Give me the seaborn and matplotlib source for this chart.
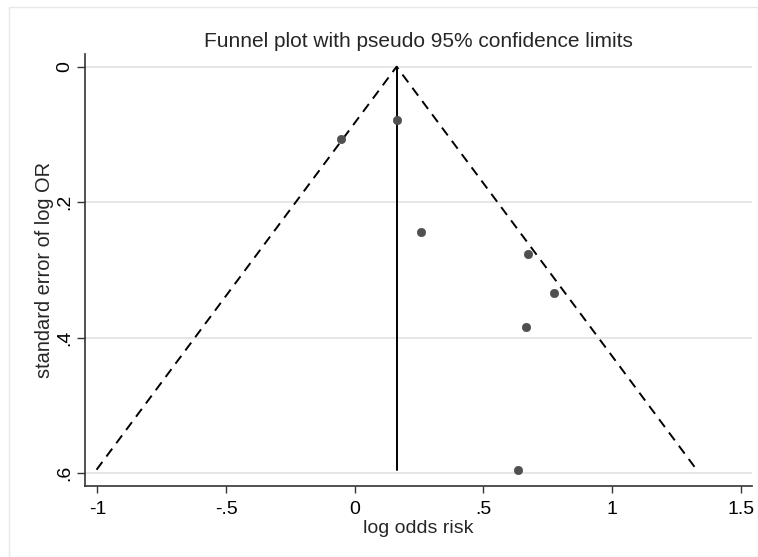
import matplotlib
matplotlib.use("Agg")
import matplotlib.pyplot as plt
import seaborn as sns
import numpy as np
import pandas as pd

# Data
log_or = [-0.054, 0.163, 0.257, 0.675, 0.773, 0.667, 0.633]
se_log_or = [0.107, 0.079, 0.244, 0.276, 0.334, 0.385, 0.595]
pooled = 0.163
x_ticks = [-1, -0.5, 0, 0.5, 1, 1.5]
x_ticklabels = ["-1", "-.5", "0", ".5", "1", "1.5"]
y_ticks = [0, 0.2, 0.4, 0.6]
y_ticklabels = ["0", ".2", ".4", ".6"]

sns.set_theme(style="white")
plt.rcParams['font.family'] = ['Liberation Sans', 'DejaVu Sans']

fig = plt.figure(figsize=(7.58, 5.57), dpi=100)
ax = fig.add_axes([85/758, 1-486/557, (751.7-85)/758, (486-54)/557])

# grid lines
for yv in y_ticks:
    ax.axhline(yv, color="#e2e2e2", lw=1.2, zorder=0)

df = pd.DataFrame({"x": log_or, "se": se_log_or})
max_se = max(se_log_or)
funnel = pd.DataFrame({
    "x": [pooled - 1.96 * max_se, pooled, pooled + 1.96 * max_se],
    "se": [max_se, 0, max_se],
})
sns.lineplot(data=funnel, x="x", y="se", ax=ax, color="black", lw=1.4,
             linestyle=(0, (5, 3.5)), sort=False, estimator=None, zorder=2)
vline = pd.DataFrame({"x": [pooled, pooled], "se": [0, max_se]})
sns.lineplot(data=vline, x="x", y="se", ax=ax, color="black", lw=1.4,
             sort=False, estimator=None, zorder=2)
sns.scatterplot(data=df, x="x", y="se", ax=ax, color="#505050", s=36,
                edgecolor="#505050", linewidth=0.5, zorder=3)

ax.set_xlim(-1.048, 1.543)
ax.set_ylim(0.619, -0.0187)
ax.set_xticks(x_ticks)
ax.set_xticklabels(x_ticklabels)
ax.set_yticks(y_ticks)
ax.set_yticklabels(y_ticklabels, rotation=90, va="center")
ax.tick_params(axis="both", length=5, width=1, color="#333333", labelsize=14,
               labelcolor="black", left=True, bottom=True)
ax.tick_params(axis="x", pad=5.5)
ax.tick_params(axis="y", pad=2.5, length=5.8)
for side in ["top", "right"]:
    ax.spines[side].set_visible(False)
for side in ["left", "bottom"]:
    ax.spines[side].set_color("#333333")
    ax.spines[side].set_linewidth(1.2)

ax.set_xlabel("log odds risk", fontsize=14, labelpad=1.5)
ax.set_ylabel("standard error of log OR", fontsize=14.4, labelpad=1.5)
ax.set_title("Funnel plot with pseudo 95% confidence limits", fontsize=15, pad=5)

# faint outer frame of the graph region
fig.add_artist(plt.Rectangle((9/758, 0.0), 1 - 9/758, 1 - 7/557, transform=fig.transFigure,
                             fill=False, edgecolor="#e8e8e8", lw=1))

fig.savefig("out.png", dpi=100)
